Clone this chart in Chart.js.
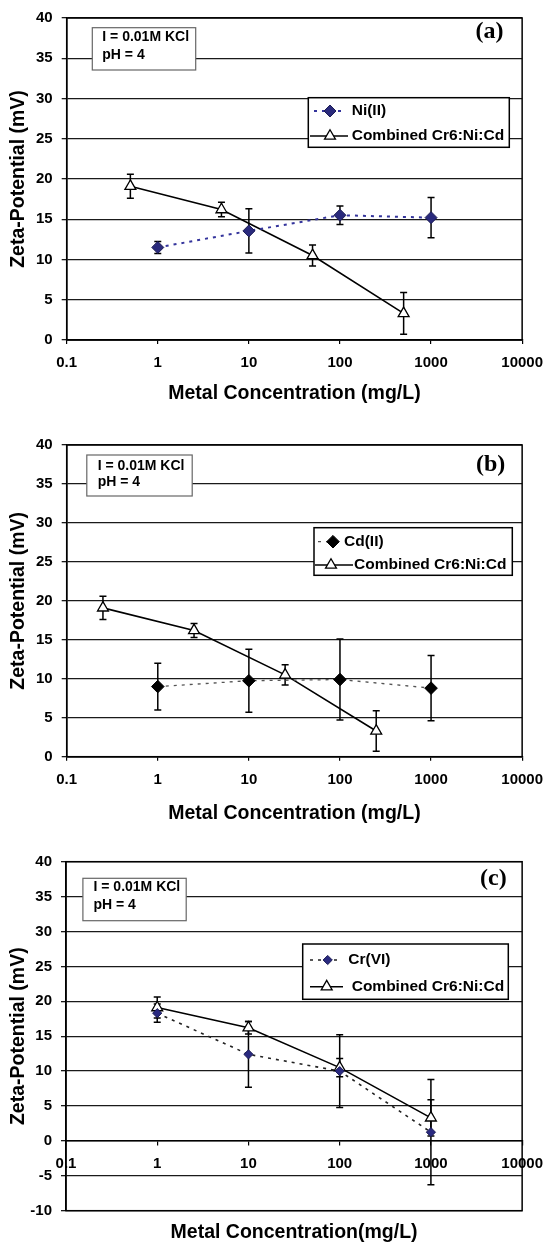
<!DOCTYPE html>
<html>
<head>
<meta charset="utf-8">
<script src="https://cdn.jsdelivr.net/npm/chart.js@4.4.1/dist/chart.umd.min.js"></script>
<style>
  html, body { margin: 0; padding: 0; background: #fff; }
  #wrap { position: relative; width: 553px; height: 1249px; }
  canvas { position: absolute; left: 0; }
</style>
</head>
<body>
<div id="wrap">
  <canvas id="chartA" width="553" height="410" style="top:0px"></canvas>
  <canvas id="chartB" width="553" height="410" style="top:420px"></canvas>
  <canvas id="chartC" width="553" height="414" style="top:835px"></canvas>
</div>
<script>
// x axis (log) ticks
const xTicks = [0.1, 1, 10, 100, 1000, 10000];
const xTickLabels = ['0.1', '1', '10', '100', '1000', '10000'];

// combined Cr6:Ni:Cd curve, same values in every plot, only the x differs
const comboY = [19.1, 16.2, 10.5, 3.3];
const comboErr = [1.5, 0.9, 1.3, 2.6];
const comboXA = [0.5, 5, 50, 500];
const comboXB = [0.25, 2.5, 25, 250];
const comboXC = [1, 10, 100, 1000];

// single metals
const metalX = [1, 10, 100, 1000];
const niY = [11.5, 13.55, 15.5, 15.2];
const niErr = [0.75, 2.75, 1.15, 2.5];
const cdY = [9.0, 9.75, 9.9, 8.8];
const cdErr = [3.0, 4.05, 5.2, 4.2];
const crY = [18.3, 12.4, 10.0, 1.25];
const crErr = [1.3, 4.7, 5.2, 7.55];

const infoLines = ['I = 0.01M KCl', 'pH = 4'];

const FONT = 'Arial, "Liberation Sans", sans-serif';
Chart.defaults.font.family = FONT;
Chart.defaults.color = '#000';

function pts(xs, ys) {
  return xs.map((x, i) => ({ x: x, y: ys[i] }));
}

// vertical error bars with caps, drawn under the markers
const errorBars = {
  id: 'errorBars',
  beforeDatasetsDraw(chart) {
    const ctx = chart.ctx, xs = chart.scales.x, ys = chart.scales.y;
    ctx.save();
    ctx.strokeStyle = '#000';
    ctx.lineWidth = 1.5;
    chart.data.datasets.forEach(ds => {
      if (!ds.errors) return;
      ds.data.forEach((p, i) => {
        const px = xs.getPixelForValue(p.x);
        const y1 = ys.getPixelForValue(p.y + ds.errors[i]);
        const y2 = ys.getPixelForValue(p.y - ds.errors[i]);
        ctx.beginPath();
        ctx.moveTo(px, y1); ctx.lineTo(px, y2);
        ctx.moveTo(px - 3.5, y1); ctx.lineTo(px + 3.5, y1);
        ctx.moveTo(px - 3.5, y2); ctx.lineTo(px + 3.5, y2);
        ctx.stroke();
      });
    });
    ctx.restore();
  }
};

// frame, condition box, legend box and the (a)/(b)/(c) letter
const panelDeco = {
  id: 'panelDeco',
  afterDraw(chart, args, o) {
    const ctx = chart.ctx, a = chart.chartArea;
    ctx.save();
    ctx.strokeStyle = '#000';
    ctx.lineWidth = 1.5;
    ctx.strokeRect(a.left, a.top, a.right - a.left, a.bottom - a.top);

    const ib = o.info;
    ctx.fillStyle = '#fff';
    ctx.fillRect(ib.x, ib.y, ib.w, ib.h);
    ctx.strokeStyle = '#666';
    ctx.lineWidth = 1.2;
    ctx.strokeRect(ib.x, ib.y, ib.w, ib.h);
    ctx.fillStyle = '#000';
    ctx.font = 'bold 14px ' + FONT;
    ctx.textBaseline = 'middle';
    ctx.textAlign = 'left';
    infoLines.forEach((t, i) => ctx.fillText(t, ib.tx, ib.rows[i]));

    const lg = o.legend;
    ctx.fillStyle = '#fff';
    ctx.fillRect(lg.x, lg.y, lg.w, lg.h);
    ctx.strokeStyle = '#000';
    ctx.lineWidth = 1.5;
    ctx.strokeRect(lg.x, lg.y, lg.w, lg.h);
    chart.data.datasets.forEach((ds, i) => {
      const y = lg.rows[i];
      ctx.save();
      ctx.strokeStyle = ds.borderColor;
      ctx.lineWidth = ds.borderWidth;
      ctx.setLineDash(ds.borderDash || []);
      ctx.beginPath();
      ctx.moveTo(lg.x0[i], y);
      ctx.lineTo(lg.x1[i], y);
      ctx.stroke();
      ctx.restore();
      ctx.fillStyle = ds.pointBackgroundColor;
      ctx.strokeStyle = ds.pointBorderColor;
      ctx.lineWidth = ds.pointBorderWidth;
      Chart.helpers.drawPoint(ctx, {
        pointStyle: ds.pointStyle, radius: ds.pointRadius, rotation: 0, borderWidth: ds.pointBorderWidth
      }, lg.mark[i], y);
      ctx.fillStyle = '#000';
      ctx.font = 'bold 15.5px ' + FONT;
      ctx.fillText(ds.label, lg.tx[i], y);
    });

    ctx.font = 'bold 24px "Liberation Serif", "Times New Roman", serif';
    ctx.textAlign = 'center';
    ctx.fillText(o.letter, o.lx, o.ly);
    ctx.restore();
  }
};

function metalSet(label, ys, errs, st) {
  return {
    label: label,
    data: pts(metalX, ys),
    errors: errs,
    borderColor: st.line,
    borderWidth: st.width,
    borderDash: [3, 5],
    pointStyle: 'rectRot',
    pointRadius: st.radius,
    pointBackgroundColor: st.fill,
    pointBorderColor: st.edge,
    pointBorderWidth: 1,
    tension: 0,
    fill: false
  };
}

function comboSet(xs) {
  return {
    label: 'Combined Cr6:Ni:Cd',
    data: pts(xs, comboY),
    errors: comboErr,
    borderColor: '#000',
    borderWidth: 1.6,
    pointStyle: 'triangle',
    pointRadius: 6.3,
    pointBackgroundColor: '#fff',
    pointBorderColor: '#000',
    pointBorderWidth: 1.3,
    tension: 0,
    fill: false
  };
}

function makePanel(id, cfg) {
  const tickFont = { size: 15, weight: 'bold', family: FONT };
  const titleFont = { size: 19.5, weight: 'bold', family: FONT };
  return new Chart(document.getElementById(id), {
    type: 'line',
    data: { datasets: cfg.datasets },
    options: {
      responsive: false,
      animation: false,
      devicePixelRatio: 1,
      layout: { padding: cfg.padding },
      plugins: {
        legend: { display: false },
        tooltip: { enabled: false },
        title: cfg.bottomTitle ? {
          display: true, text: cfg.bottomTitle, position: 'bottom', fullSize: false,
          font: titleFont, color: '#000', padding: { top: 10.5, bottom: 4.4 }
        } : { display: false },
        panelDeco: cfg.deco
      },
      scales: {
        x: {
          type: 'logarithmic',
          min: 0.1,
          max: 10000,
          position: cfg.xPos,
          afterBuildTicks: s => { s.ticks = xTicks.map(v => ({ value: v })); },
          afterFit: s => { if (cfg.xHeight) s.height = cfg.xHeight; },
          ticks: {
            callback: (v, i) => xTickLabels[i],
            font: tickFont, color: '#000', padding: 10, autoSkip: false, maxRotation: 0
          },
          grid: { drawOnChartArea: false, drawTicks: true, tickLength: 4, color: '#000', lineWidth: 1.2 },
          border: { color: '#000', width: 1.5 },
          title: cfg.xTitle ? {
            display: true, text: cfg.xTitle, font: titleFont, color: '#000', padding: { top: 0, bottom: 5 }
          } : { display: false }
        },
        y: {
          min: cfg.yMin,
          max: 40,
          afterFit: s => { s.width = cfg.plotLeft; },
          ticks: { stepSize: 5, font: tickFont, color: '#000', padding: 9 },
          grid: { color: '#1a1a1a', lineWidth: 1.3, tickLength: 5 },
          border: { color: '#000', width: 1.5 },
          title: {
            display: true, text: 'Zeta-Potential (mV)', font: titleFont, color: '#000',
            padding: { top: 6.6, bottom: 0 }
          }
        }
      }
    },
    plugins: [errorBars, panelDeco]
  });
}

makePanel('chartA', {
  datasets: [
    metalSet('Ni(II)', niY, niErr, { line: '#34349c', width: 2, radius: 6, fill: '#2a2a7c', edge: '#1c1c55' }),
    comboSet(comboXA)
  ],
  padding: { top: 10.7, right: 23, bottom: 0, left: 0 },
  plotLeft: 66.7,
  xPos: 'bottom',
  xHeight: 70,
  xTitle: 'Metal Concentration (mg/L)',
  yMin: 0,
  deco: {
    letter: '(a)', lx: 489.5, ly: 31.7,
    info: { x: 92.3, y: 27.7, w: 103.4, h: 42.3, tx: 102.3, rows: [37, 55] },
    legend: { x: 308.3, y: 97.7, w: 201, h: 49.6, rows: [111, 136],
      x0: [314, 310], x1: [341, 348], mark: [330, 330], tx: [351.7, 351.7] }
  }
});

makePanel('chartB', {
  datasets: [
    metalSet('Cd(II)', cdY, cdErr, { line: '#555', width: 1.3, radius: 6.3, fill: '#000', edge: '#000' }),
    comboSet(comboXB)
  ],
  padding: { top: 25, right: 23.7, bottom: 0, left: 0 },
  plotLeft: 66.7,
  xPos: 'bottom',
  xHeight: 73.3,
  xTitle: 'Metal Concentration (mg/L)',
  yMin: 0,
  deco: {
    letter: '(b)', lx: 490.7, ly: 45,
    info: { x: 86.8, y: 35, w: 105.4, h: 41, tx: 97.7, rows: [45.7, 61.7] },
    legend: { x: 314, y: 107.7, w: 198.3, h: 47.6, rows: [121.7, 145],
      x0: [318, 315], x1: [341, 353], mark: [333, 331], tx: [344, 354] }
  }
});

makePanel('chartC', {
  datasets: [
    metalSet('Cr(VI)', crY, crErr, { line: '#222', width: 1.6, radius: 4.6, fill: '#2a2a80', edge: '#1c1c55' }),
    comboSet(comboXC)
  ],
  padding: { top: 26.7, right: 28.7, bottom: 0, left: 0 },
  plotLeft: 66,
  xPos: { y: 0 },
  xHeight: 0,
  xTitle: null,
  bottomTitle: 'Metal Concentration(mg/L)',
  yMin: -10,
  deco: {
    letter: '(c)', lx: 493.3, ly: 43.3,
    info: { x: 82.9, y: 43.3, w: 103.3, h: 42.4, tx: 93.5, rows: [51.7, 70] },
    legend: { x: 302.7, y: 109, w: 205.6, h: 55.3, rows: [125, 151.7],
      x0: [310, 310], x1: [341, 343], mark: [327.7, 326.7], tx: [348.3, 351.7] }
  }
});
</script>
</body>
</html>
